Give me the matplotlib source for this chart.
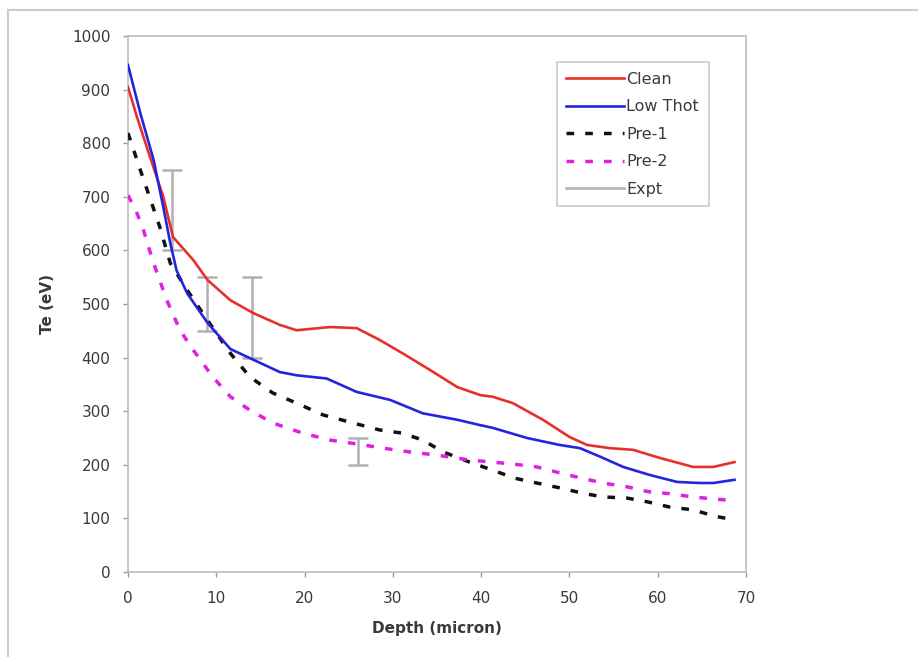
import matplotlib
matplotlib.use("Agg")
import matplotlib.pyplot as plt
from matplotlib.lines import Line2D

plt.rcParams['font.family'] = ['DejaVu Sans']

# ---- data ----
clean_x = [0, 1, 2.5, 4, 5.1, 7.4, 9, 11.6, 14.2, 17.2, 19.1, 22.9, 25.9, 28.5, 31.1, 34.2, 37.3,
           39.9, 41.3, 43.6, 47, 50, 52, 54.6, 57.2, 60.2, 64, 66.3, 68.7]
clean_y = [905, 850, 774, 700, 625, 582, 545, 507, 483, 461, 451, 457, 455, 433, 408, 377, 345,
           330, 327, 315, 284, 252, 237, 231, 228, 213, 196, 196, 205]

lowt_x = [0, 1.4, 2.9, 4, 4.8, 5.5, 6.7, 9, 11.6, 14.2, 17.2, 19.1, 22.5, 25.9, 29.7, 33.4, 37.3,
          39.9, 41.3, 45.2, 48.9, 51.2, 53.5, 56.1, 59.1, 62.2, 64.8, 66.3, 68.7]
lowt_y = [946, 856, 769, 681, 613, 563, 520, 465, 416, 396, 373, 367, 361, 336, 321, 296, 284,
          274, 269, 250, 237, 231, 215, 196, 181, 168, 166, 166, 172]

pre1_x = [0, 1.4, 3.6, 4.8, 6.7, 9, 11.6, 13.8, 16.4, 19.1, 22.1, 25.5, 28.5, 31.1, 33.4, 35.7,
          38.7, 41.3, 43.8, 46.3, 48.9, 51.5, 53.8, 56.5, 58.8, 61.4, 64, 66.5, 68.7]
pre1_y = [819, 750, 644, 576, 526, 470, 408, 364, 334, 315, 293, 278, 265, 259, 246, 224,
          205, 190, 175, 166, 157, 147, 140, 138, 131, 121, 116, 104, 97]

pre2_x = [0, 1, 1.7, 2.9, 4.4, 5.9, 7.4, 9.6, 11.6, 13.8, 16.4, 19.8, 22.9, 25.9, 28.9, 31.9,
          35, 38.7, 41.3, 43.8, 46.3, 48.9, 51.4, 53.8, 56.5, 58.9, 61.4, 64, 66.5, 68.7]
pre2_y = [703, 670, 641, 576, 507, 451, 414, 364, 327, 302, 278, 259, 246, 239, 231, 224,
          218, 209, 205, 201, 196, 185, 175, 166, 159, 150, 146, 140, 136, 133]

expt_x = [5, 9, 14, 26]
expt_lo = [600, 450, 400, 200]
expt_hi = [750, 550, 550, 250]

xticks = [0, 10, 20, 30, 40, 50, 60, 70]
yticks = [0, 100, 200, 300, 400, 500, 600, 700, 800, 900, 1000]

# ---- figure ----
fig = plt.figure(figsize=(9.18, 6.57), dpi=100)
ax = fig.add_axes([0.1394, 0.1294, 0.6732, 0.8158])

grey = '#b0b0b0'
ax.plot(clean_x, clean_y, color='#e8302b', lw=1.9, label='Clean', zorder=3)
ax.plot(lowt_x, lowt_y, color='#2424e0', lw=1.9, label='Low Thot', zorder=4)
ax.plot(pre1_x, pre1_y, color='#111111', lw=2.5, ls=(0, (2.2, 3.2)), label='Pre-1', zorder=3)
ax.plot(pre2_x, pre2_y, color='#e020e0', lw=2.5, ls=(0, (2.2, 3.2)), label='Pre-2', zorder=3)

mid = [(a + b) / 2 for a, b in zip(expt_lo, expt_hi)]
err = [[m - a for m, a in zip(mid, expt_lo)], [b - m for m, b in zip(mid, expt_hi)]]
ax.errorbar(expt_x, mid, yerr=err, fmt='none', ecolor=grey, elinewidth=1.8,
            capsize=7, capthick=1.8, zorder=2)
ax.plot([], [], color=grey, lw=1.8, label='Expt')

ax.set_xlim(0, 70)
ax.set_ylim(0, 1000)
ax.set_xticks(xticks)
ax.set_yticks(yticks)
for s in ax.spines.values():
    s.set_color('#bdbdbd')
    s.set_linewidth(1.2)
ax.tick_params(colors='#999999', labelcolor='#3a3a3a', labelsize=11, length=3.6, width=1)
ax.tick_params(axis='y', pad=9)
ax.tick_params(axis='x', pad=10)
ax.set_xlabel('Depth (micron)', fontweight='bold', fontsize=11, color='#3a3a3a', labelpad=11)
ax.set_ylabel('Te (eV)', fontweight='bold', fontsize=11, color='#3a3a3a', labelpad=12)

leg = ax.legend(loc='upper left', bbox_to_anchor=(0.694, 0.951), frameon=True, fancybox=False,
                edgecolor='#bdbdbd', fontsize=11.5, handlelength=3.6, handletextpad=0.15,
                labelspacing=0.78, borderpad=0.6, borderaxespad=0)
leg.get_frame().set_linewidth(1.2)
for t in leg.get_texts():
    t.set_color('#3a3a3a')

# outer frame of the picture (top and left edges)
fig.add_artist(Line2D([8 / 918, 1.0], [1 - 10 / 657, 1 - 10 / 657], transform=fig.transFigure,
                      color='#cccccc', lw=1.5))
fig.add_artist(Line2D([8 / 918, 8 / 918], [0, 1 - 10 / 657], transform=fig.transFigure,
                      color='#cccccc', lw=1.5))

fig.savefig('out.png', dpi=100)
